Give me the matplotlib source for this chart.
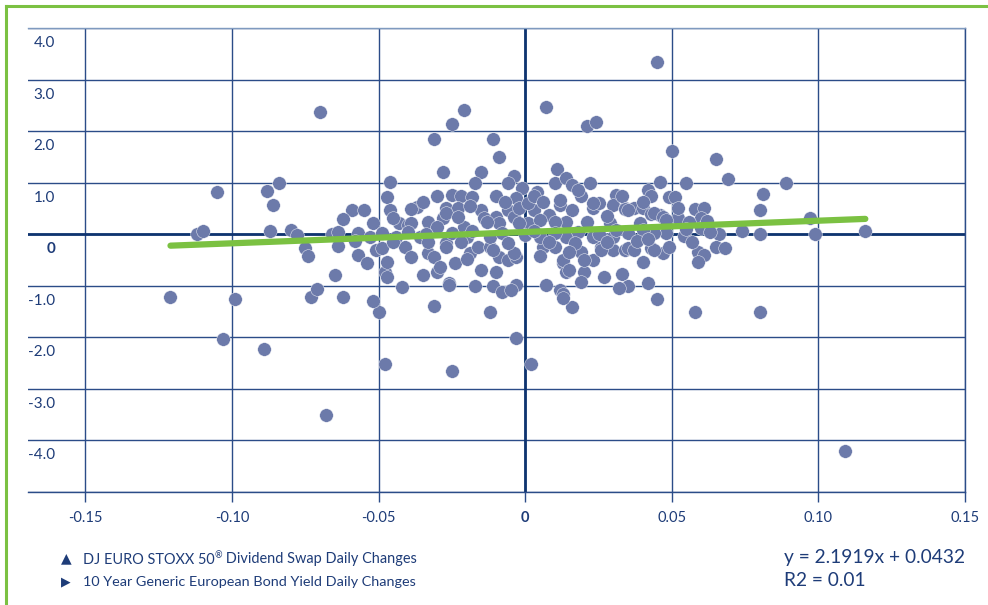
import matplotlib.pyplot as plt
from matplotlib.lines import Line2D
from matplotlib.transforms import ScaledTranslation
import numpy as np

# x = 10y bond yield daily change, y = dividend swap daily change
bond_outer = [0.045, -0.121, -0.105, -0.103, -0.099, -0.089, -0.070, -0.068, 0.007, -0.021,
              -0.025, -0.031, -0.011, -0.009, 0.021, 0.024, 0.050, 0.065, 0.069, 0.055,
              0.089, 0.081, 0.080, 0.097, 0.099, 0.116, 0.109, 0.080, 0.058, 0.045,
              0.002, -0.003, -0.025, -0.048, -0.050, -0.052, -0.062, -0.073, -0.071, -0.065,
              -0.031, -0.012, 0.016, -0.042]
swap_outer = [3.34, -1.22, 0.82, -2.04, -1.26, -2.23, 2.37, -3.51, 2.47, 2.41,
              2.14, 1.84, 1.84, 1.50, 2.10, 2.17, 1.61, 1.46, 1.07, 0.99,
              0.99, 0.78, 0.47, 0.31, 0.00, 0.06, -4.21, -1.51, -1.51, -1.26,
              -2.52, -2.02, -2.66, -2.52, -1.51, -1.30, -1.22, -1.22, -1.07, -0.80,
              -1.40, -1.51, -1.42, -1.03]

bond_left = [-0.088, -0.084, -0.086, -0.112, -0.110, -0.087, -0.080, -0.078, -0.075, -0.074,
             -0.066, -0.064, -0.064, -0.059, -0.055, -0.057, -0.058, -0.052, -0.053, -0.057,
             -0.054, -0.051, -0.049, -0.049, -0.048, -0.047, -0.046, -0.047, -0.046, -0.047]
swap_left = [0.83, 0.99, 0.56, 0.00, 0.06, 0.06, 0.08, -0.02, -0.27, -0.43,
             0.00, 0.04, -0.23, 0.47, 0.47, 0.02, -0.14, 0.21, -0.06, -0.41,
             -0.56, -0.31, -0.27, 0.02, -0.74, -0.83, 1.01, 0.72, 0.47, -0.54]

bond_mid_up = [-0.028, -0.015, -0.017, -0.004, -0.006, 0.011, 0.010, 0.014, 0.016, 0.022,
               0.004, -0.001, -0.003, 0.019, 0.031, -0.030, -0.025, -0.022, -0.018, -0.010,
               -0.037, -0.039, -0.043, -0.040, -0.033, -0.027, -0.023, -0.028, -0.015, -0.014,
               -0.010, -0.006, -0.004, -0.002, 0.003, 0.008, 0.012, 0.016, 0.023, 0.025,
               0.030, 0.034, 0.021, 0.029, 0.014, 0.001, -0.009, -0.021, -0.030]
swap_mid_up = [1.20, 1.20, 0.99, 1.13, 0.99, 1.26, 0.99, 1.09, 0.95, 0.99,
               0.82, 0.89, 0.70, 0.74, 0.76, 0.74, 0.76, 0.74, 0.72, 0.74,
               0.52, 0.49, 0.21, 0.17, 0.23, 0.50, 0.50, 0.31, 0.47, 0.31,
               0.33, 0.47, 0.33, 0.50, 0.47, 0.37, 0.56, 0.47, 0.50, 0.60,
               0.56, 0.50, 0.23, 0.21, 0.23, 0.21, 0.21, 0.14, 0.14]

bond_mid_low = [-0.041, -0.039, -0.033, -0.031, -0.035, -0.030, -0.026, -0.027, -0.024, -0.019,
                -0.016, -0.015, -0.012, -0.010, -0.009, -0.006, -0.003, -0.017, -0.011, -0.003,
                0.006, 0.010, 0.013, 0.014, 0.020, 0.019, 0.023, 0.026, 0.030, 0.034,
                0.027, 0.033, 0.019, 0.007, 0.012]
swap_mid_low = [-0.25, -0.45, -0.37, -0.45, -0.80, -0.74, -0.95, -0.17, -0.56, -0.37,
                -0.25, -0.70, -0.25, -0.74, -0.45, -0.50, -0.45, -1.01, -1.01, -0.99,
                -0.25, -0.25, -0.56, -0.74, -0.74, -0.35, -0.50, -0.25, -0.31, -0.31,
                -0.83, -0.78, -0.93, -0.99, -1.09]

bond_right = [0.046, 0.080, 0.074, 0.066, 0.065, 0.068, 0.059, 0.061, 0.059, 0.040,
              0.042, 0.035, 0.043, 0.047, 0.049, 0.035, 0.042, 0.043, 0.049, 0.051,
              0.058, 0.061, 0.060, 0.033, 0.034, 0.037, 0.040, 0.043, 0.046, 0.052,
              0.056, 0.039, 0.048, 0.054, 0.044, 0.035]
swap_right = [1.01, 0.00, 0.06, 0.00, -0.25, -0.27, -0.35, -0.41, -0.54, -0.54,
              -0.95, -1.01, -0.27, -0.37, -0.25, -0.27, 0.85, 0.74, 0.72, 0.72,
              0.49, 0.50, 0.31, 0.74, 0.49, 0.50, 0.50, 0.39, 0.37, 0.31,
              0.23, 0.21, 0.02, -0.04, 0.02, 0.02]

bond_core = [-0.026, -0.008, -0.005, 0.013, 0.013, 0.032, 0.000, 0.005, 0.014, 0.023,
             0.030, -0.036, -0.044, -0.020, -0.012, 0.001, 0.012, 0.023, 0.035, 0.044,
             0.047, -0.039, -0.027, -0.023, -0.013, -0.002, 0.005, 0.010, 0.048, -0.027,
             -0.029, -0.011, -0.004, 0.013, 0.015, 0.020, 0.026, 0.037, 0.044, -0.040,
             -0.034, -0.025, -0.018, -0.008, 0.003, 0.010, 0.018, 0.025, 0.031, 0.040,
             0.055, 0.060, -0.045, -0.033, -0.022, -0.006, 0.008, 0.017, 0.028, 0.038,
             0.003, -0.035, 0.018, 0.028, -0.019, 0.006, -0.007, 0.040, 0.052, 0.062,
             -0.045, -0.062, 0.015, -0.020, 0.005, 0.042, 0.057, 0.063]
swap_core = [-0.99, -1.13, -1.09, -1.15, -1.24, -1.05, -0.02, -0.06, -0.06, -0.06,
             -0.06, -0.06, -0.06, -0.06, -0.06, 0.60, 0.66, 0.60, 0.47, 0.41,
             0.33, 0.21, 0.41, 0.33, 0.23, 0.21, 0.27, 0.23, 0.27, -0.25,
             -0.64, -0.31, -0.37, -0.50, -0.70, -0.50, -0.31, -0.31, -0.31, 0.04,
             0.00, 0.02, 0.06, 0.02, 0.06, 0.02, 0.04, 0.00, 0.08, 0.08,
             0.10, 0.12, -0.15, -0.15, -0.15, -0.17, -0.15, -0.17, -0.15, -0.13,
             0.75, 0.62, 0.86, 0.36, 0.55, 0.62, 0.62, 0.62, 0.50, 0.25,
             0.32, 0.30, -0.35, -0.48, -0.42, -0.10, -0.15, 0.05]

slope = 2.1919
intercept = 0.0432
r_squared = 0.01

x_ticks = [-0.15, -0.10, -0.05, 0, 0.05, 0.10, 0.15]
x_labels = ['-0.15', '-0.10', '-0.05', '0', '0.05', '0.10', '0.15']
y_ticks = [-5, -4, -3, -2, -1, 0, 1, 2, 3, 4]
y_labels = ['', '-4.0', '-3.0', '-2.0', '-1.0', '0', '1.0', '2.0', '3.0', '4.0']

navy = '#1e3c78'
grid_c = '#2b4c88'
dot_c = '#6c7aaa'
green = '#7bc142'
font = ['Lato', 'DejaVu Sans']

bond = np.array(bond_outer + bond_left + bond_mid_up + bond_mid_low + bond_right + bond_core)
swap = np.array(swap_outer + swap_left + swap_mid_up + swap_mid_low + swap_right + swap_core)

fig = plt.figure(figsize=(9.88, 6.05), dpi=100)
W, H = 988, 605
ax = fig.add_axes([28 / W, 1 - 492 / H, (965 - 28) / W, (492 - 28) / H])

ax.scatter(bond, swap, s=96, color=dot_c, edgecolor='white', linewidth=0.3, zorder=3)

xs = np.array([bond.min(), bond.max()])
ax.plot(xs, slope * xs + intercept, color=green, lw=4.5, solid_capstyle='round', zorder=4)

ax.set_xlim(-0.1696, 0.15)
ax.set_ylim(-5, 4)
ax.set_xticks(x_ticks)
ax.set_xticklabels(x_labels, family=font, fontsize=10.5, color=navy)
ax.set_yticks(y_ticks)
ax.set_yticklabels(y_labels, family=font, fontsize=11, color=navy, ha='right')
ax.tick_params(axis='x', length=7.5, width=1, color=grid_c, pad=6)
ax.tick_params(axis='y', length=0, pad=-19.5)
off = ScaledTranslation(0, -13.5 / 100, fig.dpi_scale_trans)
for lab in ax.get_yticklabels():
    lab.set_transform(lab.get_transform() + off)
    if lab.get_text() == '0':
        lab.set_fontweight('bold')
for lab in ax.get_xticklabels():
    if lab.get_text() == '0':
        lab.set_fontweight('bold')

ax.grid(True, color=grid_c, lw=1.0, zorder=1)
ax.axhline(0, color='#0f3470', lw=2.0, zorder=2)
ax.axvline(0, color='#0f3470', lw=2.0, zorder=2)
ax.spines['left'].set_visible(False)
for side in ['top', 'right', 'bottom']:
    ax.spines[side].set_color(grid_c)
    ax.spines[side].set_linewidth(1.0)
ax.spines['top'].set_color('#7f9abf')
ax.set_axisbelow(True)

# green frame
fig.add_artist(Line2D([6 / W, 6 / W], [0, 1 - 6 / H], color=green, lw=2.2))
fig.add_artist(Line2D([6 / W, 1], [1 - 6 / H, 1 - 6 / H], color=green, lw=2.2))

# legend text
r = fig.canvas.get_renderer()
b1 = 1 - 563.5 / H
b2 = 1 - 586.5 / H
fig.text(61 / W, b1 + 1 / H, '\u25B2', family='DejaVu Sans', fontsize=10, color=navy, va='baseline')
fig.text(61 / W, b2 + 1 / H, '\u25B6', family='DejaVu Sans', fontsize=9, color=navy, va='baseline')
t1 = fig.text(83 / W, b1, 'DJ EURO STOXX 50', family=font, fontsize=10.45, color=navy, va='baseline')
e1 = t1.get_window_extent(r)
t2 = fig.text(e1.x1 / W, b1 + 5 / H, '\u00AE', family=font, fontsize=6.5, color=navy, va='baseline')
e2 = t2.get_window_extent(r)
fig.text(e2.x1 / W, b1, ' Dividend Swap Daily Changes', family=font, fontsize=10.45,
         color=navy, va='baseline')
fig.text(83 / W, b2, '10 Year Generic European Bond Yield Daily Changes', family=font,
         fontsize=10.4, color=navy, va='baseline')

fig.text(784 / W, 1 - 563 / H, f'y = {slope}x + {intercept}', family=font, fontsize=13.8,
         color=navy, va='baseline')
fig.text(784 / W, 1 - 586 / H, f'R2 = {r_squared}', family=font, fontsize=13.8,
         color=navy, va='baseline')

fig.savefig('out.png', dpi=100)
